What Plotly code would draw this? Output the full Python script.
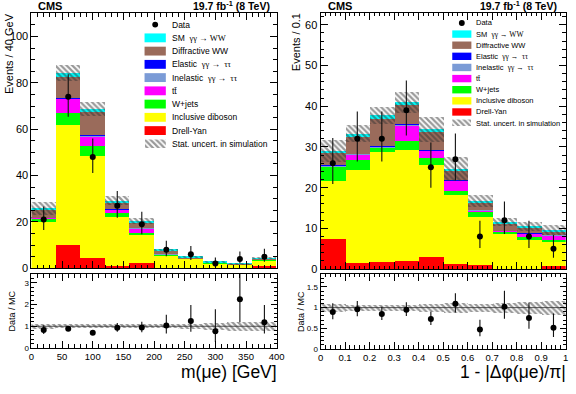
import numpy as np
import plotly.graph_objects as go

W, H = 576, 394
FONT = "Liberation Sans, Arial, Helvetica, sans-serif"
SERIF = "Liberation Serif, Times New Roman, serif"

# ---------------- Left panel: m(mu e) ----------------
mue_centers = [20, 60, 100, 140, 180, 220, 260, 300, 340, 380]
mue_width = 40
mue_data = [21, 74, 48, 27, 19, 8, 6, 2, 4, 5]
mue_data_lo = [4.5, 8.6, 6.9, 5.2, 4.3, 2.8, 2.4, 1.3, 1.9, 2.2]
mue_data_hi = [5.6, 9.7, 8.0, 6.3, 5.4, 3.9, 3.6, 2.6, 3.2, 3.4]
mue_dy = [0.0, 10.0, 4.1, 0.8, 2.1, 0.1, 0.0, 0.0, 0.0, 0.8]
mue_diboson = [20.0, 51.6, 44.1, 21.3, 12.5, 5.1, 3.9, 2.0, 1.4, 2.5]
mue_wjets = [1.4, 5.3, 4.3, 1.7, 0.7, 0.6, 0.2, 0.2, 0.1, 0.3]
mue_ttbar = [0.2, 6.0, 4.4, 1.4, 1.9, 0.2, 0.1, 0.05, 0.05, 0.2]
mue_inel = [0.1, 0.2, 0.2, 0.1, 0.1, 0.05, 0.03, 0.02, 0.02, 0.02]
mue_el = [0.05, 0.1, 0.1, 0.05, 0.05, 0.02, 0.02, 0.01, 0.01, 0.01]
mue_diff = [3.3, 9.4, 10.0, 2.8, 2.4, 1.3, 0.4, 0.2, 0.15, 0.3]
mue_sm = [0.4, 1.5, 1.2, 0.9, 0.5, 0.4, 0.2, 0.1, 0.05, 0.1]
mue_unc = [2.8, 3.6, 3.0, 1.8, 1.3, 0.6, 0.4, 0.3, 0.3, 0.5]
mue_ratio_band = [0.12, 0.1, 0.08, 0.1, 0.1, 0.1, 0.12, 0.16, 0.2, 0.2]

# ---------------- Right panel: 1-|dphi/pi| ----------------
dphi_centers = [0.05, 0.15, 0.25, 0.35, 0.45, 0.55, 0.65, 0.75, 0.85, 0.95]
dphi_width = 0.1
dphi_data = [26, 32, 32, 39, 25, 27, 8, 12, 8, 5]
dphi_data_lo = [5.1, 5.6, 5.6, 6.2, 5.0, 5.2, 2.8, 3.4, 2.8, 2.2]
dphi_data_hi = [6.2, 6.7, 6.7, 7.3, 6.1, 6.3, 3.9, 4.6, 3.9, 3.4]
dphi_dy = [7.5, 1.6, 1.8, 2.0, 3.0, 1.4, 1.2, 0.1, 0.1, 1.0]
dphi_diboson = [14.3, 22.8, 27.0, 27.4, 22.7, 17.0, 11.7, 8.6, 7.2, 5.7]
dphi_wjets = [3.4, 2.6, 1.1, 2.1, 1.7, 1.0, 1.2, 0.6, 0.8, 0.6]
dphi_ttbar = [0.1, 1.2, 0.2, 4.0, 1.8, 2.4, 0.5, 0.2, 0.8, 1.2]
dphi_inel = [0.3, 0.2, 0.2, 0.2, 0.1, 0.1, 0.1, 0.05, 0.05, 0.05]
dphi_el = [0.15, 0.1, 0.05, 0.05, 0.05, 0.05, 0.02, 0.02, 0.02, 0.02]
dphi_diff = [3.0, 4.1, 6.7, 4.7, 4.5, 2.4, 1.8, 1.8, 1.4, 0.8]
dphi_sm = [0.4, 0.8, 0.8, 0.6, 0.6, 0.4, 0.4, 0.4, 0.3, 0.4]
dphi_unc = [2.7, 2.0, 2.0, 2.6, 3.0, 3.0, 1.5, 1.0, 1.1, 1.3]
dphi_ratio_band = [0.1, 0.08, 0.08, 0.08, 0.1, 0.12, 0.1, 0.12, 0.15, 0.17]

# stack order (bottom of stack first)
stack_labels = ["Drell-Yan", "Inclusive diboson", "W+jets", "ttbar",
                "Inelastic", "Elastic", "Diffractive WW", "SM"]
stack_colors = ["#ff0000", "#ffff00", "#00ff00", "#ff00ff",
                "#7b9bd6", "#0000ff", "#9a6b5b", "#00ffff"]

HATCH = dict(shape="\\", size=4, solidity=0.55, fgcolor="#333333",
             bgcolor="rgba(0,0,0,0)", fillmode="overlay")


def fx(px):
    return px / W


def fy(py):
    return 1 - py / H


fig = go.Figure()


def add_panel(centers, width, comps, unc, data, dlo, dhi, rband, xm, ym, xr, yr):
    centers = np.array(centers)
    base = np.zeros(len(centers))
    for vals, col in zip(comps, stack_colors):
        vals = np.array(vals, dtype=float)
        fig.add_trace(go.Bar(x=centers, y=vals, base=base.copy(), width=width,
                             marker=dict(color=col, line=dict(width=0)),
                             xaxis=xm, yaxis=ym, showlegend=False, hoverinfo="skip"))
        base = base + vals
    total = base
    unc = np.array(unc)
    fig.add_trace(go.Bar(x=centers, y=2 * unc, base=total - unc, width=width,
                         marker=dict(color="rgba(0,0,0,0)", line=dict(width=0), pattern=HATCH),
                         xaxis=xm, yaxis=ym, showlegend=False, hoverinfo="skip"))
    data = np.array(data, dtype=float)
    dlo = np.array(dlo)
    dhi = np.array(dhi)
    fig.add_trace(go.Scatter(x=centers, y=data, mode="markers",
                             marker=dict(color="black", size=6),
                             error_y=dict(type="data", symmetric=False, array=dhi, arrayminus=dlo,
                                          color="#111", thickness=1.1, width=0),
                             xaxis=xm, yaxis=ym, showlegend=False, hoverinfo="skip"))
    rb = np.array(rband)
    fig.add_trace(go.Bar(x=centers, y=2 * rb, base=1 - rb, width=width,
                         marker=dict(color="rgba(0,0,0,0)", line=dict(width=0), pattern=HATCH),
                         xaxis=xr, yaxis=yr, showlegend=False, hoverinfo="skip"))
    ratio = data / total
    fig.add_trace(go.Scatter(x=centers, y=ratio, mode="markers",
                             marker=dict(color="black", size=6),
                             error_y=dict(type="data", symmetric=False, array=dhi / total,
                                          arrayminus=dlo / total, color="#111", thickness=1.1, width=0),
                             xaxis=xr, yaxis=yr, showlegend=False, hoverinfo="skip"))


add_panel(mue_centers, mue_width,
          [mue_dy, mue_diboson, mue_wjets, mue_ttbar, mue_inel, mue_el, mue_diff, mue_sm],
          mue_unc, mue_data, mue_data_lo, mue_data_hi, mue_ratio_band, "x", "y", "x2", "y2")
add_panel(dphi_centers, dphi_width,
          [dphi_dy, dphi_diboson, dphi_wjets, dphi_ttbar, dphi_inel, dphi_el, dphi_diff, dphi_sm],
          dphi_unc, dphi_data, dphi_data_lo, dphi_data_hi, dphi_ratio_band, "x3", "y3", "x4", "y4")


def ax(domain, rng, dtick, mdtick, anchor, labels=True, size=11, ticklen=7):
    return dict(domain=domain, range=rng, dtick=dtick, tick0=0, ticks="inside", ticklen=ticklen,
                tickwidth=1, tickcolor="black",
                minor=dict(dtick=mdtick, ticks="inside", ticklen=ticklen / 2, tickcolor="black",
                           tickwidth=1, showgrid=False),
                showline=True, linecolor="black", linewidth=1, mirror="ticks",
                showgrid=False, zeroline=False, showticklabels=labels, anchor=anchor,
                tickfont=dict(family=FONT, size=size, color="black"), fixedrange=True)


LX = [fx(29), fx(279)]
RX = [fx(323.7), fx(573.7)]

layout = dict(
    width=W, height=H, autosize=False,
    margin=dict(l=0, r=0, t=0, b=0, pad=0),
    paper_bgcolor="white", plot_bgcolor="white",
    barmode="overlay", bargap=0, showlegend=False,
    font=dict(family=FONT, color="black"),
    xaxis=ax(LX, [0, 400], 50, 10, "y", labels=False),
    yaxis=ax([fy(272.4), fy(13.5)], [0, 110], 20, 5, "x", size=11),
    xaxis2=ax(LX, [0, 400], 50, 10, "y2", size=9.5),
    yaxis2=ax([fy(353.3), fy(278.3)], [0, 3.41], 1, 0.2, "x2", size=8, ticklen=6),
    xaxis3=ax(RX, [0, 1], 0.1, 0.02, "y3", labels=False),
    yaxis3=ax([fy(273.3), fy(12.7)], [0, 63], 10, 2, "x3", size=11),
    xaxis4=ax(RX, [0, 1], 0.1, 0.02, "y4", size=9.5),
    yaxis4=ax([fy(354.3), fy(278)], [0, 1.82], 0.5, 0.1, "x4", size=8, ticklen=6),
)
fig.update_layout(**layout)

shapes = []
annotations = []

# line at ratio = 1
for xr, yr in (("x2", "y2"), ("x4", "y4")):
    shapes.append(dict(type="line", xref=f"{xr} domain", yref=yr, x0=0, x1=1, y0=1, y1=1,
                       line=dict(color="#555", width=1), layer="below"))


def ann(text, x, y, size, xanchor="center", yanchor="middle", angle=0, bold=False, pad=1):
    annotations.append(dict(text=f"<b>{text}</b>" if bold else text, x=fx(x), y=fy(y),
                            xref="paper", yref="paper", showarrow=False,
                            xanchor=xanchor, yanchor=yanchor, textangle=angle, borderpad=pad,
                            font=dict(family=FONT, size=size, color="black")))


# headers
ann("CMS", 34, 6, 11, xanchor="left", bold=True)
ann("19.7 fb<sup>-1</sup> (8 TeV)", 274, 6, 10.5, xanchor="right", bold=True)
ann("CMS", 329, 6, 11, xanchor="left", bold=True)
ann("19.7 fb<sup>-1</sup> (8 TeV)", 567, 6, 10.5, xanchor="right", bold=True)

# axis titles
ann("Events / 40 GeV", 6, 54, 11, angle=-90)
ann("Data / MC", 9.5, 316, 9, angle=-90)
ann("Events / 0.1", 299.5, 43, 11, angle=-90)
ann("Data / MC", 303.5, 316, 9, angle=-90)
ann("m(μe) [GeV]", 280, 378, 17.5, xanchor="right", pad=0)
ann("1 - |Δφ(μe)/π|", 575, 378, 17.5, xanchor="right", pad=0)


def sf(t):
    return f'<span style="font-family:{SERIF}">{t}</span>'


legend_texts = ["Data",
                "SM\u00a0\u00a0" + sf("γγ → WW"),
                "Diffractive WW",
                "Elastic\u00a0\u00a0" + sf("γγ →\u00a0\u00a0ττ"),
                "Inelastic\u00a0\u00a0" + sf("γγ →\u00a0\u00a0ττ"),
                "tt\u0304",
                "W+jets",
                "Inclusive diboson",
                "Drell-Yan",
                "Stat. uncert. in simulation"]
legend_cols = [None] + stack_colors[::-1] + ["hatch"]


def make_legend(x0, x1, ytop, step, sh, tx, fsize, hatch_axes):
    xa, ya = hatch_axes
    for i, (t, c) in enumerate(zip(legend_texts, legend_cols)):
        yc = ytop + step * i
        if c is None:
            xc = (x0 + x1) / 2
            r = 3
            shapes.append(dict(type="circle", xref="paper", yref="paper",
                               x0=fx(xc - r), x1=fx(xc + r), y0=fy(yc + r), y1=fy(yc - r),
                               fillcolor="black", line=dict(width=0)))
        elif c == "hatch":
            layout_axes = {
                xa: dict(domain=[fx(x0), fx(x1)], range=[0, 1], visible=False,
                         anchor=ya.replace("yaxis", "y"), fixedrange=True),
                ya: dict(domain=[fy(yc + sh / 2), fy(yc - sh / 2)], range=[0, 1], visible=False,
                         anchor=xa.replace("xaxis", "x"), fixedrange=True),
            }
            fig.update_layout(**layout_axes)
            fig.add_trace(go.Bar(x=[0.5], y=[1], base=[0], width=[1],
                                 marker=dict(color="rgba(0,0,0,0)", line=dict(width=0), pattern=HATCH),
                                 xaxis=xa.replace("xaxis", "x"), yaxis=ya.replace("yaxis", "y"),
                                 showlegend=False, hoverinfo="skip"))
        else:
            shapes.append(dict(type="rect", xref="paper", yref="paper",
                               x0=fx(x0), x1=fx(x1), y0=fy(yc + sh / 2), y1=fy(yc - sh / 2),
                               fillcolor=c, line=dict(width=0)))
        ann(t, tx, yc, fsize, xanchor="left", pad=0)


make_legend(144.3, 166, 25, 13.45, 9, 171.7, 8.5, ("xaxis5", "yaxis5"))
make_legend(458, 477.5, 23.3, 11.3, 7.5, 481, 7.5, ("xaxis6", "yaxis6"))

fig.update_layout(shapes=shapes, annotations=annotations)
fig.write_html("out.html")
